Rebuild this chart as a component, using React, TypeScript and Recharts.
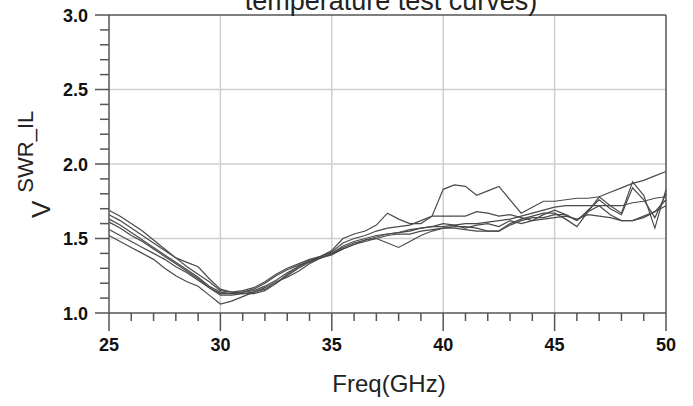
import { LineChart, Line, XAxis, YAxis, ReferenceLine } from "recharts";

const FONT = "Arial, 'Liberation Sans', sans-serif";

// frequency points, GHz (0.5 GHz steps)
const freq = [
  25, 25.5, 26, 26.5, 27, 27.5, 28, 28.5, 29, 29.5,
  30, 30.5, 31, 31.5, 32, 32.5, 33, 33.5, 34, 34.5,
  35, 35.5, 36, 36.5, 37, 37.5, 38, 38.5, 39, 39.5,
  40, 40.5, 41, 41.5, 42, 42.5, 43, 43.5, 44, 44.5,
  45, 45.5, 46, 46.5, 47, 47.5, 48, 48.5, 49, 49.5, 50,
];

// VSWR curves at the different temperatures
const curveA = [
  1.69, 1.65, 1.60, 1.55, 1.49, 1.43, 1.37, 1.34, 1.31, 1.23,
  1.16, 1.14, 1.13, 1.13, 1.15, 1.20, 1.26, 1.31, 1.35, 1.38,
  1.42, 1.50, 1.53, 1.55, 1.59, 1.67, 1.63, 1.60, 1.60, 1.65,
  1.83, 1.86, 1.85, 1.79, 1.82, 1.85, 1.76, 1.67, 1.71, 1.75,
  1.75, 1.76, 1.77, 1.77, 1.78, 1.81, 1.84, 1.87, 1.89, 1.92, 1.95,
];
const curveB = [
  1.66, 1.62, 1.57, 1.52, 1.47, 1.42, 1.37, 1.31, 1.26, 1.21,
  1.15, 1.14, 1.15, 1.17, 1.21, 1.26, 1.30, 1.33, 1.36, 1.38,
  1.41, 1.47, 1.50, 1.52, 1.55, 1.57, 1.58, 1.59, 1.62, 1.65,
  1.65, 1.65, 1.65, 1.68, 1.67, 1.65, 1.66, 1.64, 1.62, 1.66,
  1.69, 1.66, 1.62, 1.69, 1.76, 1.70, 1.66, 1.84, 1.76, 1.64, 1.80,
];
const curveC = [
  1.63, 1.59, 1.54, 1.49, 1.44, 1.39, 1.34, 1.29, 1.24, 1.18,
  1.14, 1.13, 1.14, 1.16, 1.20, 1.25, 1.29, 1.32, 1.35, 1.37,
  1.40, 1.44, 1.47, 1.49, 1.51, 1.53, 1.54, 1.55, 1.57, 1.58,
  1.58, 1.59, 1.60, 1.60, 1.61, 1.62, 1.63, 1.65, 1.67, 1.69,
  1.71, 1.72, 1.72, 1.72, 1.72, 1.72, 1.72, 1.74, 1.75, 1.77, 1.78,
];
const curveD = [
  1.61, 1.57, 1.52, 1.48, 1.43, 1.38, 1.33, 1.28, 1.23, 1.17,
  1.13, 1.13, 1.14, 1.15, 1.18, 1.22, 1.27, 1.31, 1.35, 1.37,
  1.40, 1.43, 1.46, 1.49, 1.50, 1.47, 1.44, 1.48, 1.52, 1.55,
  1.57, 1.57, 1.56, 1.55, 1.55, 1.55, 1.60, 1.63, 1.65, 1.67,
  1.67, 1.63, 1.58, 1.68, 1.78, 1.72, 1.67, 1.88, 1.79, 1.57, 1.83,
];
const curveE = [
  1.56, 1.52, 1.48, 1.44, 1.40, 1.36, 1.31, 1.27, 1.22, 1.17,
  1.12, 1.12, 1.13, 1.14, 1.16, 1.20, 1.25, 1.30, 1.34, 1.37,
  1.40, 1.45, 1.48, 1.50, 1.52, 1.53, 1.54, 1.56, 1.57, 1.58,
  1.60, 1.59, 1.57, 1.59, 1.60, 1.58, 1.62, 1.60, 1.62, 1.63,
  1.64, 1.65, 1.63, 1.66, 1.65, 1.64, 1.62, 1.62, 1.65, 1.68, 1.72,
];
const curveF = [
  1.52, 1.48, 1.44, 1.40, 1.36, 1.30, 1.25, 1.21, 1.18, 1.12,
  1.06, 1.08, 1.11, 1.14, 1.17, 1.21, 1.24, 1.28, 1.33, 1.37,
  1.39, 1.43, 1.46, 1.48, 1.50, 1.52, 1.53, 1.53, 1.55, 1.56,
  1.57, 1.58, 1.58, 1.57, 1.55, 1.55, 1.59, 1.62, 1.64, 1.64,
  1.66, 1.66, 1.62, 1.68, 1.72, 1.66, 1.62, 1.62, 1.64, 1.68, 1.76,
];

const seriesKeys = ["a", "b", "c", "d", "e", "f2"];
const seriesValues = [curveA, curveB, curveC, curveD, curveE, curveF];

// axis ticks (majors get labels, the rest are minor marks)
const freqTicks = [
  25, 26, 27, 28, 29, 30, 31, 32, 33, 34, 35, 36, 37, 38, 39,
  40, 41, 42, 43, 44, 45, 46, 47, 48, 49, 50,
];
const vswrTicks = [
  1.0, 1.1, 1.2, 1.3, 1.4, 1.5, 1.6, 1.7, 1.8, 1.9,
  2.0, 2.1, 2.2, 2.3, 2.4, 2.5, 2.6, 2.7, 2.8, 2.9, 3.0,
];
const freqGrid = [30, 35, 40, 45];
const vswrGrid = [1.5, 2.0, 2.5];

const rows = freq.map((f, i) => {
  const row: any = { f };
  seriesKeys.forEach((k, j) => (row[k] = seriesValues[j][i]));
  return row;
});

const AXIS = "#555";

const FreqTick = ({ x, y, payload }: any) => {
  const major = payload.value % 5 === 0;
  return (
    <g>
      <line x1={x} y1={y} x2={x} y2={y + (major ? 18 : 8)} stroke={AXIS} strokeWidth={1.5} />
      {major && (
        <text x={x} y={y + 38} textAnchor="middle" fontSize={18} fontWeight="bold" fill="#111" fontFamily={FONT}>
          {payload.value}
        </text>
      )}
    </g>
  );
};

const VswrTick = ({ x, y, payload }: any) => {
  const v = payload.value;
  const major = Math.abs(v * 2 - Math.round(v * 2)) < 1e-6;
  return (
    <g>
      <line x1={x - (major ? 14 : 9)} y1={y} x2={x} y2={y} stroke={AXIS} strokeWidth={1.5} />
      {major && (
        <text x={x - 21} y={y + 6.5} textAnchor="end" fontSize={18} fontWeight="bold" fill="#111" fontFamily={FONT}>
          {v.toFixed(1)}
        </text>
      )}
    </g>
  );
};

export default function App() {
  return (
    <div style={{ position: "absolute", left: 0, top: 0, width: 693, height: 406, background: "#fff", overflow: "hidden" }}>
      <LineChart width={693} height={406} data={rows} margin={{ top: 15, right: 27, bottom: 53, left: 49 }}>
        <XAxis
          dataKey="f"
          type="number"
          domain={[25, 50]}
          ticks={freqTicks}
          interval={0}
          tick={<FreqTick />}
          tickLine={false}
          tickSize={0}
          tickMargin={0}
          height={40}
          axisLine={{ stroke: AXIS, strokeWidth: 1.5 }}
        />
        <YAxis
          type="number"
          domain={[1, 3]}
          ticks={vswrTicks}
          interval={0}
          tick={<VswrTick />}
          tickLine={false}
          tickSize={0}
          tickMargin={0}
          width={60}
          axisLine={{ stroke: AXIS, strokeWidth: 1.5 }}
        />
        {freqGrid.map((g) => (
          <ReferenceLine key={`vx-${g}`} x={g} stroke="#cfcfcf" strokeWidth={1.5} />
        ))}
        {vswrGrid.map((g) => (
          <ReferenceLine key={`hy-${g}`} y={g} stroke="#cfcfcf" strokeWidth={1.5} />
        ))}
        <ReferenceLine y={3} stroke={AXIS} strokeWidth={1.5} />
        <ReferenceLine x={50} stroke={AXIS} strokeWidth={1.5} />
        {seriesKeys.map((k) => (
          <Line
            key={k}
            dataKey={k}
            type="linear"
            stroke="#4a4a4a"
            strokeWidth={1.2}
            dot={false}
            activeDot={false}
            isAnimationActive={false}
          />
        ))}
      </LineChart>
      <svg width={693} height={406} style={{ position: "absolute", left: 0, top: 0, pointerEvents: "none" }}>
        <text x={391} y={10} textAnchor="middle" fontSize={27} fill="#222" fontFamily={FONT}>
          temperature test curves)
        </text>
        <text x={389} y={392} textAnchor="middle" fontSize={24} fill="#222" fontFamily={FONT}>
          Freq(GHz)
        </text>
        <text transform="translate(50,218) rotate(-90)" fill="#222" fontFamily={FONT}>
          <tspan fontSize={26}>V</tspan>
          <tspan fontSize={22} dy={-17} dx={8}>SWR_IL</tspan>
        </text>
      </svg>
    </div>
  );
}
